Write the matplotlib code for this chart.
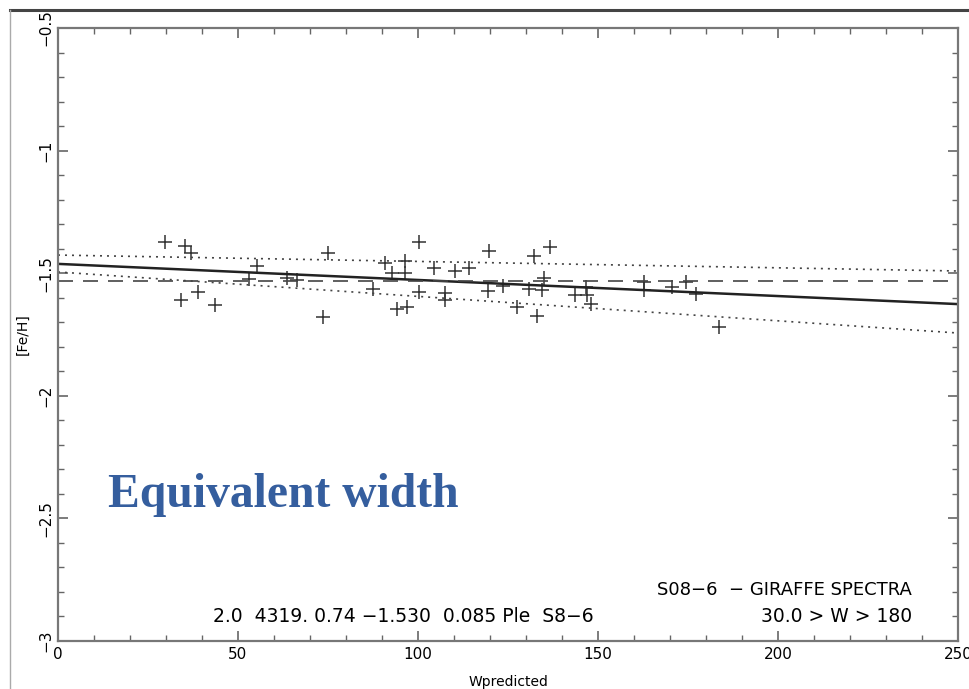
import numpy as np
import matplotlib
matplotlib.use("Agg")
import matplotlib.pyplot as plt
from matplotlib.ticker import MultipleLocator, FuncFormatter
from matplotlib.lines import Line2D

# Measured points (Wpredicted, [Fe/H])
w_pred = [29.7, 35.3, 36.9, 34.2, 38.9, 43.6, 55.2, 53.1, 63.7, 66.3,
          73.7, 74.9, 87.6, 90.8, 92.9, 96.4, 96.4, 100.4, 104.5, 100.4,
          107.5, 107.5, 94.3, 97.0, 110.3, 114.3, 119.8, 119.5, 123.7, 130.9,
          134.4, 132.2, 136.7, 135.1, 127.6, 133.1, 143.6, 146.6, 146.9, 148.1,
          162.8, 162.8, 170.5, 174.4, 177.2, 183.7]
feh = [-1.372, -1.389, -1.418, -1.609, -1.577, -1.630, -1.471, -1.524, -1.521, -1.528,
       -1.679, -1.419, -1.566, -1.457, -1.498, -1.498, -1.450, -1.372, -1.478, -1.578,
       -1.580, -1.609, -1.647, -1.639, -1.491, -1.480, -1.408, -1.571, -1.551, -1.566,
       -1.568, -1.429, -1.392, -1.521, -1.639, -1.673, -1.589, -1.555, -1.589, -1.627,
       -1.537, -1.569, -1.555, -1.535, -1.585, -1.718]

# fit, mean and envelope lines (end points)
line_x = [0, 250]
fit_y = [-1.462, -1.626]
mean_y = [-1.530, -1.530]
upper_y = [-1.426, -1.491]
lower_y = [-1.495, -1.744]

fig = plt.figure(figsize=(9.69, 6.89), dpi=100)

# slide frame lines
fig.add_artist(Line2D([10 / 969, 1], [1 - 10 / 689, 1 - 10 / 689], color="#444444", lw=2.2))
fig.add_artist(Line2D([10 / 969, 10 / 969], [0, 1 - 10 / 689], color="#aaaaaa", lw=1.0))

ax = fig.add_axes([58 / 969, 1 - 641 / 689, 900 / 969, 613 / 689])

ax.plot(w_pred, feh, "+", color="#333333", markersize=10, markeredgewidth=1.1)
ax.plot(line_x, fit_y, "-", color="#222222", lw=1.8)
ax.plot(line_x, mean_y, color="#444444", lw=1.2, dashes=(9, 6))
ax.plot(line_x, upper_y, color="#444444", lw=1.2, dashes=(1.2, 3))
ax.plot(line_x, lower_y, color="#444444", lw=1.2, dashes=(1.2, 3))

ax.set_xlim(0, 250)
ax.set_ylim(-3, -0.5)
ax.xaxis.set_major_locator(MultipleLocator(50))
ax.xaxis.set_minor_locator(MultipleLocator(10))
ax.yaxis.set_major_locator(MultipleLocator(0.5))
ax.yaxis.set_minor_locator(MultipleLocator(0.1))
ax.yaxis.set_major_formatter(FuncFormatter(lambda v, p: ("%g" % v).replace("-", "\u2212")))
ax.tick_params(which="both", direction="in", top=True, right=True, colors="#666666",
               labelcolor="black", labelsize=11)
ax.tick_params(which="major", length=7, width=1.2)
ax.tick_params(which="minor", length=4, width=1.0)
ax.tick_params(axis="x", pad=4)
for lab in ax.get_yticklabels():
    lab.set_rotation(90)
    lab.set_va("center")
for s in ax.spines.values():
    s.set_color("#777777")
    s.set_linewidth(1.6)

ax.set_xlabel("Wpredicted", fontsize=10, labelpad=10)
ax.set_ylabel("[Fe/H]", fontsize=10, labelpad=6)

ax.text(0.949, 0.083, "S08\u22126  \u2212 GIRAFFE SPECTRA", transform=ax.transAxes,
        ha="right", va="center", fontsize=13)
ax.text(0.172, 0.040, "2.0  4319. 0.74 \u22121.530  0.085 Ple  S8\u22126", transform=ax.transAxes,
        ha="left", va="center", fontsize=13.5)
ax.text(0.949, 0.040, "30.0 > W > 180", transform=ax.transAxes,
        ha="right", va="center", fontsize=13.5)

fig.text(108 / 969, 1 - 495 / 689, "Equivalent width", color="#355E9E",
         family="Liberation Serif", fontweight="bold", fontsize=34.3, va="center", ha="left")

fig.savefig("out.png", dpi=100)
